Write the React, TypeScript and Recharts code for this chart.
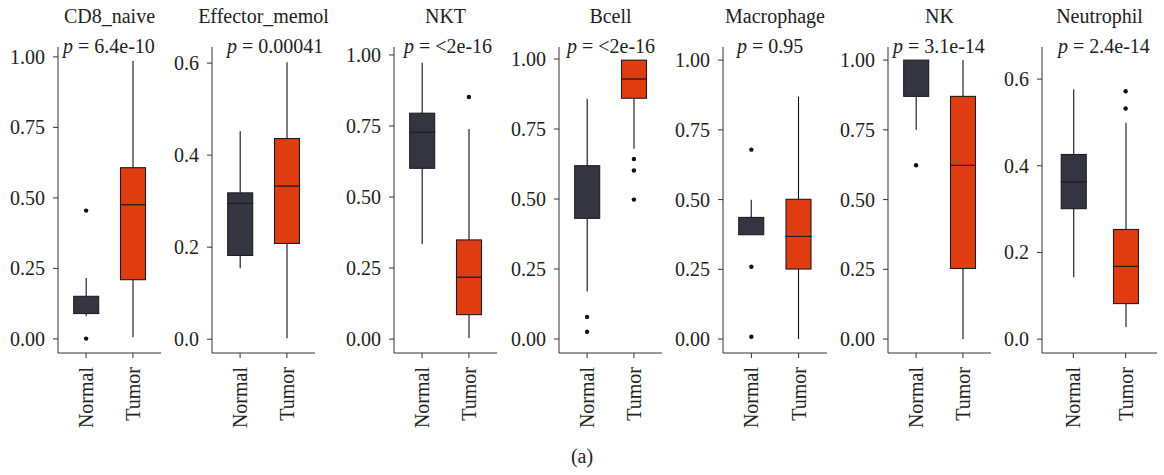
import { ComposedChart, Bar, Line, XAxis, YAxis } from 'recharts';

const cellTypes = ['CD8_naive', 'Effector_memol', 'NKT', 'Bcell', 'Macrophage', 'NK', 'Neutrophil'];
const pValues = ['6.4e-10', '0.00041', '<2e-16', '<2e-16', '0.95', '3.1e-14', '2.4e-14'];
const groups = ['Normal', 'Tumor'];

// per panel: [Normal, Tumor]
const whiskerLow = [[0.08, 0.006], [0.154, 0.002], [0.334, 0.004], [0.17, 0.68], [0.374, 0.0], [0.749, 0.0], [0.143, 0.028]];
const q1 = [[0.09, 0.21], [0.182, 0.208], [0.601, 0.086], [0.431, 0.86], [0.374, 0.251], [0.87, 0.253], [0.301, 0.082]];
const median = [[0.09, 0.476], [0.295, 0.333], [0.728, 0.218], [0.431, 0.929], [0.374, 0.368], [1.0, 0.623], [0.363, 0.168]];
const q3 = [[0.151, 0.607], [0.318, 0.436], [0.795, 0.349], [0.619, 0.996], [0.436, 0.501], [1.0, 0.87], [0.426, 0.253]];
const whiskerHigh = [[0.216, 0.985], [0.452, 0.602], [0.973, 0.739], [0.858, 0.996], [0.499, 0.869], [1.0, 1.0], [0.576, 0.499]];
const outliers = [
  [[0.455, 0.001], []],
  [[], []],
  [[], [0.852]],
  [[0.079, 0.026], [0.643, 0.602, 0.498]],
  [[0.679, 0.259, 0.008], []],
  [[0.623], []],
  [[], [0.572, 0.532]],
];

const yMin = [-0.05, -0.03, -0.049, -0.05, -0.05, -0.05, -0.032];
const yMax = [1.035, 0.635, 1.028, 1.043, 1.047, 1.047, 0.674];
const unitTicks = [0, 0.25, 0.5, 0.75, 1];
const smallTicks = [0, 0.2, 0.4, 0.6];

// layout
const axisX = [58, 212, 394, 559, 723, 888, 1042];
const plotW = [103, 103, 103, 103, 104, 103, 115];
const pLeft = [63, 227, 404, 567, 737, 893, 1058];
const YW = 56;
const FONT = "'Liberation Serif', 'DejaVu Serif', serif";
const colors = ['#353541', '#e03c12'];
const ink = '#1e1e1e';

function Whisker(props: any) {
  const { x, y, width, height } = props;
  if (!height) return <g />;
  const cx = x + width / 2;
  return <line x1={cx} x2={cx} y1={y} y2={y + height} stroke="#111" strokeWidth={1.1} />;
}

function BoxPart(props: any) {
  const { x, y, width, height, index } = props;
  return <rect x={x} y={y} width={width} height={Math.max(height, 0)} fill={colors[index]} stroke={ink} strokeWidth={1.1} />;
}

function RotTick(props: any) {
  const { x, y, payload } = props;
  const ty = y + 7;
  return (
    <text x={x} y={ty} transform={`rotate(-90 ${x} ${ty})`} textAnchor="end" dominantBaseline="central"
      fontSize={20} fontFamily={FONT} fill="#222">{payload.value}</text>
  );
}

function YTick(props: any) {
  const { x, y, payload, small } = props;
  return (
    <text x={x} y={y} textAnchor="end" dominantBaseline="central" fontSize={20} fontFamily={FONT} fill="#222">
      {Number(payload.value).toFixed(small ? 1 : 2)}
    </text>
  );
}

function Panel({ i }: { i: number }) {
  const rows = groups.map((g, j) => {
    const o = outliers[i][j];
    return {
      group: g,
      base: whiskerLow[i][j],
      wLow: q1[i][j] - whiskerLow[i][j],
      boxLow: median[i][j] - q1[i][j],
      boxHigh: q3[i][j] - median[i][j],
      wHigh: whiskerHigh[i][j] - q3[i][j],
      o1: o[0] ?? null,
      o2: o[1] ?? null,
      o3: o[2] ?? null,
    };
  });
  const W = plotW[i];
  const pad = W * 0.0455;
  const small = yMax[i] < 0.8;
  const dot = { r: 2.2, fill: '#111', stroke: 'none' };
  return (
    <div style={{ position: 'absolute', left: axisX[i] - YW, top: 0 }}>
      <ComposedChart width={YW + W + 6} height={475} data={rows} margin={{ top: 47, right: 6, bottom: 0, left: 0 }}>
        <XAxis dataKey="group" type="category" height={122} padding={{ left: pad, right: pad }} interval={0}
          tick={<RotTick />} tickSize={5} axisLine={{ stroke: '#333' }} tickLine={{ stroke: '#333' }} />
        <YAxis width={YW} type="number" domain={[yMin[i], yMax[i]]} allowDataOverflow
          ticks={small ? smallTicks : unitTicks} interval={0}
          tickSize={5} tickMargin={8} axisLine={{ stroke: '#333' }} tickLine={{ stroke: '#333' }}
          tick={<YTick small={small} />} />
        <Bar dataKey="base" stackId="b" barSize={25} fill="none" shape={() => <g />} isAnimationActive={false} />
        <Bar dataKey="wLow" stackId="b" barSize={25} shape={Whisker} isAnimationActive={false} />
        <Bar dataKey="boxLow" stackId="b" barSize={25} shape={BoxPart} isAnimationActive={false} />
        <Bar dataKey="boxHigh" stackId="b" barSize={25} shape={BoxPart} isAnimationActive={false} />
        <Bar dataKey="wHigh" stackId="b" barSize={25} shape={Whisker} isAnimationActive={false} />
        <Line dataKey="o1" stroke="none" dot={dot} activeDot={false} isAnimationActive={false} />
        <Line dataKey="o2" stroke="none" dot={dot} activeDot={false} isAnimationActive={false} />
        <Line dataKey="o3" stroke="none" dot={dot} activeDot={false} isAnimationActive={false} />
      </ComposedChart>
    </div>
  );
}

export default function App() {
  return (
    <div style={{ position: 'absolute', left: 0, top: 0, width: 1164, height: 475, background: '#fff', fontFamily: FONT, color: '#222' }}>
      {cellTypes.map((name, i) => (
        <div key={name}>
          <Panel i={i} />
          <div style={{ position: 'absolute', left: axisX[i] + plotW[i] / 2 - 100, width: 200, top: 6, fontSize: 20, lineHeight: '20px', textAlign: 'center', whiteSpace: 'nowrap' }}>
            {name}
          </div>
          <div style={{ position: 'absolute', left: pLeft[i], top: 36, fontSize: 20, lineHeight: '20px', whiteSpace: 'nowrap' }}>
            <i>p</i> = {pValues[i]}
          </div>
        </div>
      ))}
      <div style={{ position: 'absolute', left: 482, width: 200, top: 446, fontSize: 20, lineHeight: '20px', textAlign: 'center' }}>(a)</div>
    </div>
  );
}
